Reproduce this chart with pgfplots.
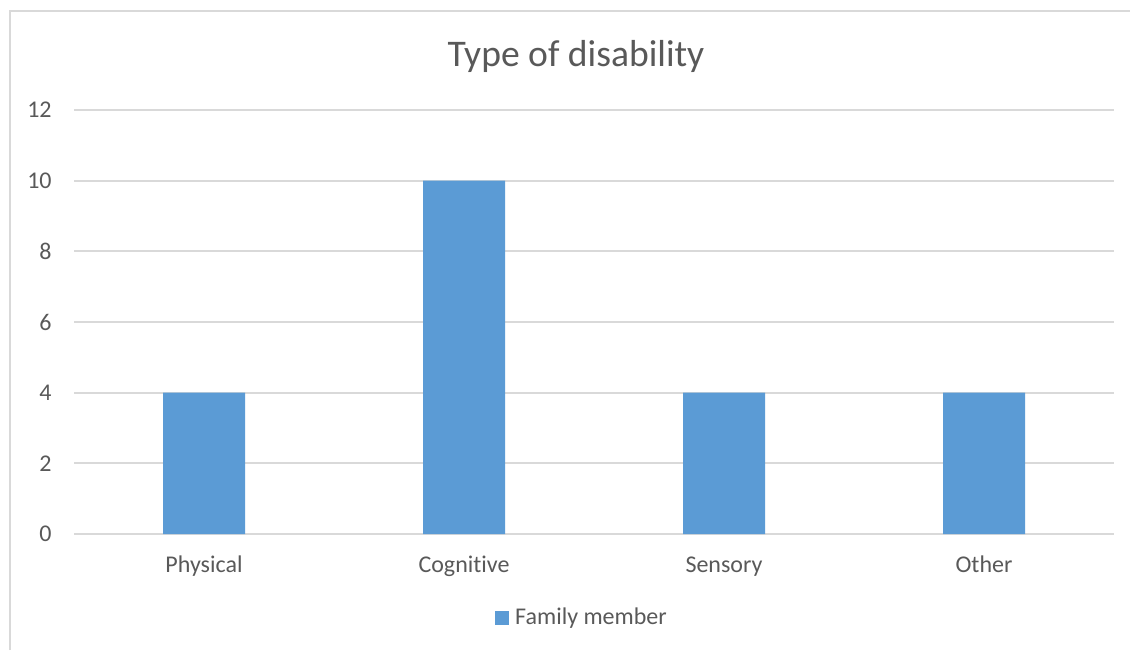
\documentclass[border=0pt]{standalone}
\usepackage{fontspec}
\setmainfont{Carlito}[Ligatures={NoCommon}]
\usepackage{pgfplots}
\pgfplotsset{compat=1.18}
\definecolor{barblue}{HTML}{5B9BD5}
\definecolor{labelgray}{HTML}{595959}
\definecolor{gridgray}{HTML}{D9D9D9}
\begin{document}
\begin{tikzpicture}
% chart area
\path[use as bounding box] (0,0) rectangle (565pt,325pt);
\draw[gridgray, line width=0.75pt] (5pt,0) -- (5pt,319.5pt) -- (565pt,319.5pt);
% title
\node[anchor=base, text=labelgray, font=\fontsize{18.8}{22}\selectfont, inner sep=0]
  at (288pt,292pt) {Type of disability};
\begin{axis}[
  at={(37pt,58pt)}, anchor=south west,
  scale only axis, width=520pt, height=212pt,
  xmin=-0.5, xmax=3.5, ymin=0, ymax=12,
  enlargelimits=false,
  xtick={0,1,2,3},
  xticklabels={Physical,Cognitive,Sensory,Other},
  ytick={0,2,...,12},
  major tick length=0pt,
  axis line style={draw=none},
  ymajorgrids,
  major grid style={gridgray, line width=0.9pt},
  tick label style={text=labelgray, font=\fontsize{12}{14}\selectfont, inner sep=0pt},
  /pgf/number format/assume math mode=true,
  xticklabel style={anchor=base, yshift=-19pt},
  yticklabel style={anchor=east, xshift=-11pt},
  legend style={at={(0.4875,-0.198)}, anchor=center, draw=none, fill=none,
    inner sep=0pt, text=labelgray, font=\fontsize{12}{14}\selectfont,
    nodes={inner sep=0pt}, /tikz/every odd column/.append style={column sep=3pt}},
  legend cell align=left,
]
\addplot[ybar, fill=barblue, draw=none, bar width=41pt,
  legend image code/.code={\fill[barblue] (0pt,-3.5pt) rectangle (7pt,3.5pt);}]
  coordinates {(0,4) (1,10) (2,4) (3,4)};
\addlegendentry{Family member}
\end{axis}
\end{tikzpicture}
\end{document}
